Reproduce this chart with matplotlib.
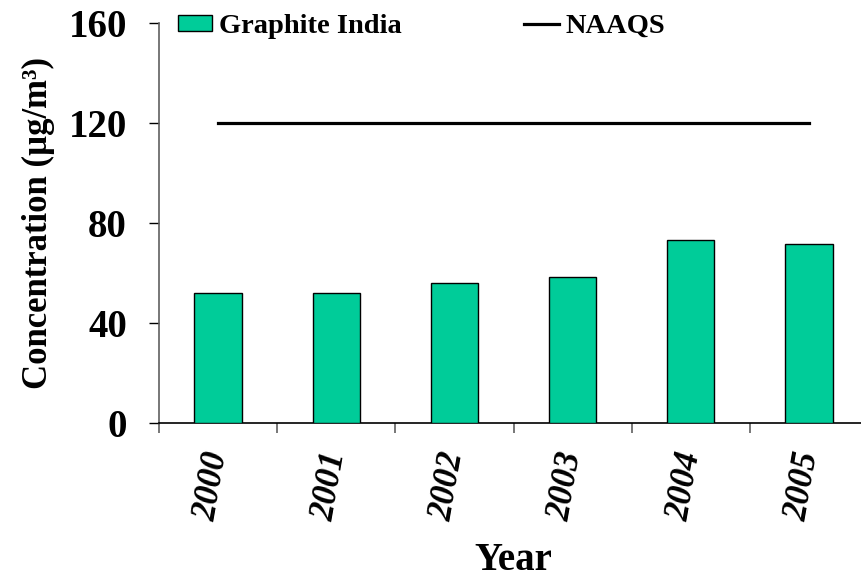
import numpy as np
import matplotlib
matplotlib.use("Agg")
import matplotlib.pyplot as plt
import matplotlib.transforms as mtransforms
from matplotlib.patches import Patch
from matplotlib.lines import Line2D

plt.rcParams['font.family'] = ['Liberation Serif', 'DejaVu Serif']
plt.rcParams['font.weight'] = 'bold'

# Data
years = ['2000', '2001', '2002', '2003', '2004', '2005']
graphite_india = [52, 52, 56, 58.4, 73.3, 71.8]
naaqs = [120, 120, 120, 120, 120, 120]

GREEN = '#00CC99'
BLACK = '#000000'
GREY = '#606060'

fig = plt.figure(figsize=(8.62, 5.81), dpi=100)
ax = fig.add_axes([159 / 862, 1 - 423.3 / 581, 709 / 862, 400 / 581])

x = np.arange(len(years))
ax.bar(x, graphite_india, width=0.4, color=GREEN, edgecolor=BLACK, linewidth=1.0, zorder=3)
ax.plot(x, naaqs, color=BLACK, linewidth=2.3, zorder=4)

ax.set_xlim(-0.5, len(years) - 0.5)
ax.set_ylim(0, 160)
ax.set_yticks([0, 40, 80, 120, 160])

# category labels at centres, tick marks at the boundaries
ax.set_xticks(x)
ax.set_xticklabels(years, rotation=80, fontsize=25, fontstyle='italic', fontweight='bold')
ax.set_xticks(np.arange(-0.5, len(years) + 0.5, 1), minor=True)
ax.tick_params(axis='x', which='major', length=0, pad=19)
ax.tick_params(axis='x', which='minor', length=7, width=1.2, color=GREY, direction='out')
ax.tick_params(axis='y', length=7, width=1.0, color=BLACK, direction='out', pad=16, labelsize=28)

# nudge the year labels a little to the left
shift = mtransforms.ScaledTranslation(-6 / 100, 0, fig.dpi_scale_trans)
for lab in ax.get_xticklabels():
    lab.set_transform(lab.get_transform() + shift)

for lab in ax.get_yticklabels():
    lab.set_fontweight('bold')

ax.spines['top'].set_visible(False)
ax.spines['right'].set_visible(False)
ax.spines['left'].set_color(GREY)
ax.spines['left'].set_linewidth(1.2)
ax.spines['bottom'].set_color(BLACK)
ax.spines['bottom'].set_linewidth(1.2)

ax.set_ylabel('Concentration (µg/m³)', fontsize=25, fontweight='bold', labelpad=10)
ax.set_xlabel('Year', fontsize=28, fontweight='bold', labelpad=13)

handles = [Patch(facecolor=GREEN, edgecolor=BLACK, linewidth=1.0),
           Line2D([0], [0], color=BLACK, linewidth=2.3)]
leg = fig.legend(handles, ['Graphite India', 'NAAQS'], ncol=2, frameon=False,
                 loc='upper left', bbox_to_anchor=(178 / 862, 1 - 14 / 581),
                 borderaxespad=0, borderpad=0, fontsize=20.5,
                 handlelength=1.2, handleheight=0.5, handletextpad=0.25,
                 columnspacing=4.3)
for t in leg.get_texts():
    t.set_fontweight('bold')

fig.savefig('out.png', dpi=100, facecolor='white')
